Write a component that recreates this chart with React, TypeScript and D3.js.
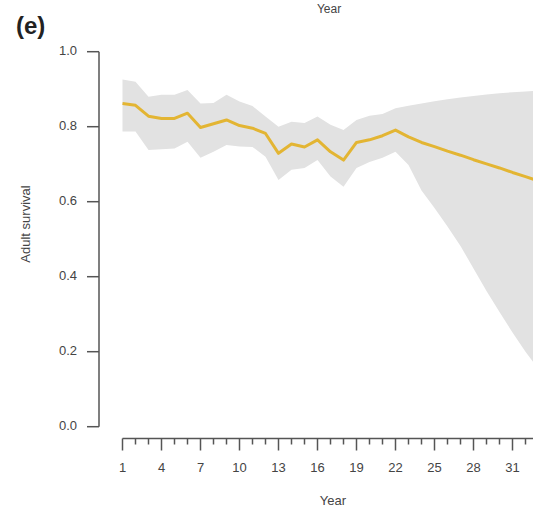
import React from "react";
import * as d3 from "d3";

const years = [
  1, 2, 3, 4, 5, 6, 7, 8, 9, 10, 11, 12, 13, 14, 15, 16, 17, 18, 19, 20, 21,
  22, 23, 24, 25, 26, 27, 28, 29, 30, 31, 32, 33, 34,
];
const survival = [
  0.862, 0.857, 0.828, 0.822, 0.822, 0.836, 0.798, 0.808, 0.818, 0.803, 0.796,
  0.782, 0.729, 0.754, 0.746, 0.765, 0.733, 0.711, 0.758, 0.765, 0.776, 0.791,
  0.773, 0.758, 0.747, 0.735, 0.724, 0.712, 0.701, 0.69, 0.678, 0.667, 0.655,
  0.644,
];
const upper = [
  0.926, 0.92, 0.88, 0.885, 0.885, 0.898, 0.862, 0.863, 0.885, 0.867, 0.855,
  0.827, 0.8, 0.813, 0.81, 0.827, 0.805, 0.791, 0.818, 0.829, 0.834, 0.849,
  0.856, 0.862, 0.868, 0.873, 0.878, 0.882, 0.886, 0.889, 0.892, 0.894, 0.896,
  0.898,
];
const lower = [
  0.787, 0.787, 0.738, 0.74, 0.742, 0.76, 0.717, 0.733, 0.751, 0.747, 0.746,
  0.72, 0.658, 0.685, 0.69, 0.711, 0.667, 0.64, 0.69, 0.706, 0.717, 0.733,
  0.698, 0.63, 0.583, 0.534, 0.482, 0.422, 0.362, 0.306, 0.251, 0.2, 0.153,
  0.11,
];
const yTicks = [0, 0.2, 0.4, 0.6, 0.8, 1.0];
const xLabelTicks = [1, 4, 7, 10, 13, 16, 19, 22, 25, 28, 31];

export default function App() {
  const width = 533;
  const height = 511;
  const font = "'Liberation Sans', Arial, sans-serif";
  const textColor = "#444";
  const axisColor = "#555";

  const x = d3.scaleLinear().domain([1, 34]).range([122.5, 551.5]);
  const y = d3.scaleLinear().domain([0, 1]).range([426.7, 51.7]);

  const rows = years.map((yr, i) => ({
    yr,
    m: survival[i],
    lo: lower[i],
    hi: upper[i],
  }));

  const band = d3
    .area<any>()
    .x((d) => x(d.yr))
    .y0((d) => y(d.lo))
    .y1((d) => y(d.hi));
  const line = d3
    .line<any>()
    .x((d) => x(d.yr))
    .y((d) => y(d.m));

  const axisY = 438.5;
  const yAxisX = 99;

  return (
    <svg
      width={width}
      height={height}
      style={{ position: "absolute", left: 0, top: 0, background: "#fff" }}
      fontFamily={font}
    >
      {/* panel leftovers */}
      <text x={329} y={13} fontSize={12} fill={textColor} textAnchor="middle">
        Year
      </text>
      <text x={16} y={34} fontSize={24} fontWeight="bold" fill="#222">
        (e)
      </text>

      <path d={band(rows) || ""} fill="#e2e2e2" stroke="none" />
      <path
        d={line(rows) || ""}
        fill="none"
        stroke="#e3b533"
        strokeWidth={3}
        strokeLinejoin="round"
      />

      {/* y axis */}
      <line
        x1={yAxisX}
        x2={yAxisX}
        y1={y(0)}
        y2={y(1)}
        stroke={axisColor}
        strokeWidth={1.5}
      />
      {yTicks.map((t) => (
        <g key={t}>
          <line
            x1={yAxisX - 12}
            x2={yAxisX}
            y1={y(t)}
            y2={y(t)}
            stroke={axisColor}
            strokeWidth={1.5}
          />
          <text
            x={77}
            y={y(t)}
            fontSize={13}
            fill={textColor}
            textAnchor="end"
            dominantBaseline="middle"
          >
            {t.toFixed(1)}
          </text>
        </g>
      ))}
      <text
        transform={`translate(27, 224) rotate(-90)`}
        fontSize={13}
        fill={textColor}
        textAnchor="middle"
        dominantBaseline="middle"
      >
        Adult survival
      </text>

      {/* x axis */}
      <line
        x1={x(1)}
        x2={x(34)}
        y1={axisY}
        y2={axisY}
        stroke={axisColor}
        strokeWidth={1.5}
      />
      {years.map((yr) => {
        const major = (yr - 1) % 3 === 0;
        return (
          <line
            key={yr}
            x1={x(yr)}
            x2={x(yr)}
            y1={axisY}
            y2={axisY + (major ? 12 : 6)}
            stroke={axisColor}
            strokeWidth={1.5}
          />
        );
      })}
      {xLabelTicks.map((t) => (
        <text
          key={t}
          x={x(t)}
          y={469}
          fontSize={13}
          fill={textColor}
          textAnchor="middle"
          dominantBaseline="middle"
        >
          {t}
        </text>
      ))}
      <text
        x={333}
        y={502}
        fontSize={13}
        fill={textColor}
        textAnchor="middle"
        dominantBaseline="middle"
      >
        Year
      </text>
    </svg>
  );
}
